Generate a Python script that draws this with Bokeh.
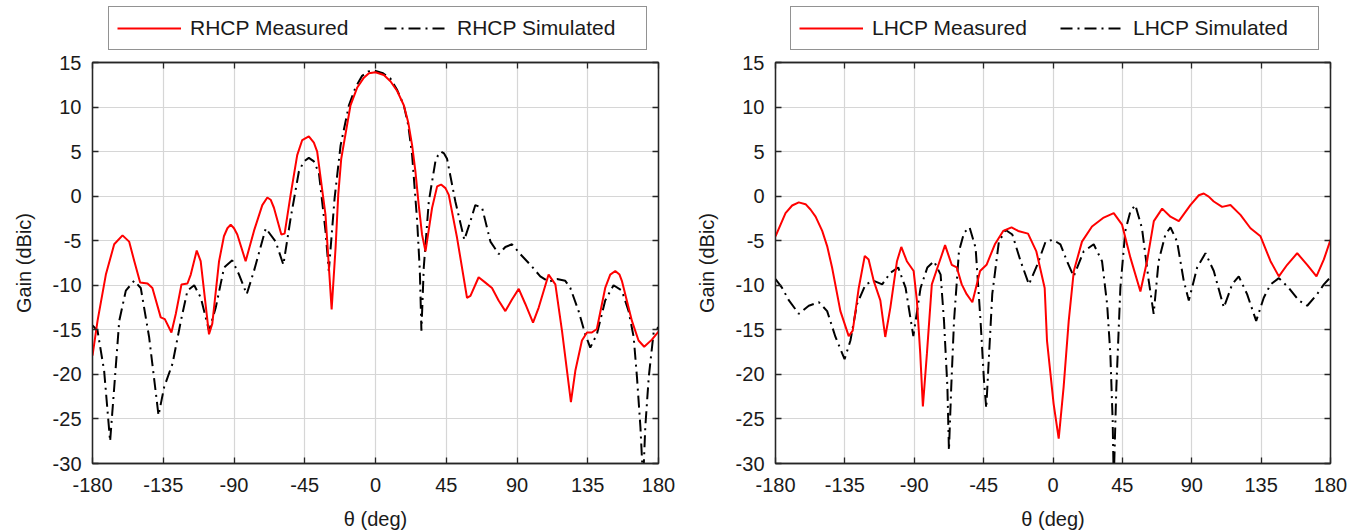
from bokeh.plotting import figure
from bokeh.models import (Range1d, Legend, LegendItem, LinearAxis, FixedTicker,
                          CustomJSTickFormatter)
from bokeh.layouts import row, column
from bokeh.embed import file_html
from bokeh.resources import INLINE

# ---------------- data ----------------
x_ticks = [-180, -135, -90, -45, 0, 45, 90, 135, 180]
y_ticks = [-30, -25, -20, -15, -10, -5, 0, 5, 10, 15]

rhcp_meas_theta = [-180, -176.8, -171.5, -166.2, -160.9, -156.7, -153.4, -149.7, -145, -141.9,
                   -136.6, -134, -129.8, -127, -123.4, -119.6, -117.5, -113.7, -111.2, -105.9,
                   -103.8, -99.5, -96.4, -94.2, -92.1, -90, -87.9, -82.6, -77.3, -72, -68.8,
                   -66.7, -64.6, -59.9, -57.8, -54, -49.8, -46.6, -42.4, -39.2, -37.1, -31.8,
                   -27.9, -25.4, -23.7, -21.8, -15.9, -11.6, -7.4, -4.2, 0, 5.3, 9.5, 13.8,
                   18, 20.8, 23.3, 25.4, 27.5, 29.6, 31.8, 36, 39.2, 41.7, 44.5, 46.6, 51.9,
                   58.2, 60.4, 65.6, 69.9, 74.1, 78.3, 82.6, 86.8, 91.1, 95.3, 100.2, 103.8,
                   110.1, 114.4, 118.6, 124.3, 127.1, 131.3, 134.5, 137.6, 140.8, 146.1,
                   149.3, 152.5, 155.2, 156.7, 163.1, 167.3, 170.9, 175.8, 180]
rhcp_meas_gain = [-17.9, -14.0, -8.8, -5.4, -4.4, -5.1, -7.3, -9.7, -9.8, -10.3,
                  -13.6, -13.8, -15.3, -13.2, -9.9, -9.8, -8.8, -6.1, -7.3, -15.5,
                  -14.3, -7.3, -4.5, -3.6, -3.2, -3.6, -4.3, -7.3, -3.9, -1.0, -0.15,
                  -0.4, -1.3, -4.3, -4.2, 0.15, 4.6, 6.3, 6.7, 6.0, 5.0, -2.1,
                  -12.7, -5.8, 0.15, 4.2, 10.2, 12.2, 13.3, 13.8, 13.9, 13.6, 12.9, 11.8,
                  10.2, 8.3, 5.7, 2.75, -1.0, -4.3, -6.2, -1.3, 1.1, 1.3, 0.9, 0.15, -4.7,
                  -11.4, -11.2, -9.1, -9.7, -10.3, -11.7, -12.9, -11.6, -10.4, -12.1, -14.2, -12.5,
                  -8.8, -9.9, -15.1, -23.1, -19.6, -16.2, -15.3, -15.3, -14.9, -10.3,
                  -8.8, -8.4, -8.8, -9.5, -14.0, -16.2, -16.9, -16.1, -15.2]

rhcp_sim_theta = [-180, -176.8, -172.6, -168.8, -166.2, -163, -158.8, -153.5, -149.3, -144, -138,
                  -134.4, -129.1, -123.8, -119.6, -115.3, -111.1, -105.9, -101.6, -96.3, -91.1,
                  -86.8, -81.9, -77.3, -69.8, -63.5, -58.6, -54, -48.7, -45.5, -42.4, -39.2,
                  -36, -31.8, -29.7, -26, -22.2, -16.9, -12.7, -8.5, -4.5, -1, 4.8, 9.5, 13.8,
                  18, 20.8, 23.3, 26.5, 28.2, 29.2, 30.7, 33.9, 38.1, 39.8, 41.7, 43.6, 45.5,
                  50.8, 56.5, 60.4, 63.5, 67.8, 73.1, 78.4, 82.6, 86.8, 92.1, 98.5, 104.8,
                  110.1, 115.4, 120.7, 123.9, 129.2, 133.4, 136.6, 140.8, 146.1, 151.4,
                  156.7, 161, 164.2, 166.3, 168.5, 170.2, 171.6, 173.8, 176.9, 180]
rhcp_sim_gain = [-14.5, -15.1, -19.6, -27.5, -21.5, -14.0, -10.6, -9.5, -10.3, -15.8, -24.6,
                 -21.4, -18.8, -14.0, -10.6, -10.0, -11.4, -15.1, -12.5, -8.0, -7.2,
                 -8.8, -11.0, -8.4, -3.6, -5.1, -7.7, -2.5, 2.8, 3.9, 4.3, 3.9,
                 2.6, -3.9, -8.4, -0.2, 5.7, 10.2, 12.2, 13.5, 14.0, 14.1, 13.8, 13.2, 11.9,
                 10.2, 8.0, 4.6, -2.8, -8.4, -15.1, -8.0, -0.6, 3.9, 4.6, 5.0, 4.8, 4.2,
                 -0.6, -4.9, -2.8, -1.0, -1.3, -5.1, -6.5, -5.7, -5.4, -6.5, -7.7, -9.0,
                 -9.6, -9.3, -9.5, -10.3, -12.9, -15.5, -17.0, -15.5, -11.7, -10.0,
                 -10.6, -12.9, -15.8, -20.3, -25.9, -32.0, -25.9, -20.3, -15.3, -14.7]

lhcp_meas_theta = [-180, -173.5, -169.2, -164.9, -160.5, -157.3, -154, -149.7, -146.5, -143.3,
                   -137.9, -132.5, -129.9, -126, -122.1, -119.6, -116.3, -112, -108.8, -105.5,
                   -101.2, -98.4, -94.8, -90.4, -88.3, -86.1, -84.4, -81.8, -78.6, -74.3, -70,
                   -65.7, -62.4, -59.2, -56, -52.3, -47.3, -43.1, -37.7, -32.3, -26.9, -22.6,
                   -16.2, -10.8, -5.4, -3.9, 0.4, 3.7, 6.9, 10.2, 13.5, 18.8, 25.3, 32.9, 39.4,
                   44.8, 50.2, 56.7, 61, 65.4, 70.8, 76.2, 81.6, 89.1, 94.6, 97.8, 101, 104.3,
                   109.7, 115.1, 121.6, 128.1, 134.6, 141.1, 146.5, 151.9, 158.4, 164.9, 170.9,
                   175.7, 180]
lhcp_meas_gain = [-4.5, -1.9, -1.05, -0.7, -0.9, -1.5, -2.3, -3.9, -5.6, -8.0,
                  -12.9, -15.7, -15.1, -10.3, -6.7, -7.1, -9.5, -11.7, -15.8, -12.5,
                  -7.3, -5.7, -7.3, -8.4, -11.7, -17.7, -23.6, -17.7, -9.9, -7.7, -5.5,
                  -7.7, -8.0, -9.9, -11.0, -11.9, -8.4, -7.7, -5.4, -3.9, -3.5, -3.9,
                  -4.2, -6.2, -10.3, -16.2, -23.3, -27.2, -21.4, -14.0, -8.4, -5.1, -3.4, -2.4, -1.9,
                  -3.2, -6.9, -10.7, -7.3, -2.8, -1.4, -2.3, -2.8, -1.0, 0.1, 0.3, -0.05, -0.6,
                  -1.2, -1.0, -2.1, -3.6, -4.5, -7.3, -9.0, -7.7, -6.4, -7.7, -9.0,
                  -7.1, -4.9]

lhcp_sim_theta = [-180, -175.7, -171.3, -164.9, -158.4, -151.9, -146.5, -141.1, -135.2, -131.4,
                  -127.1, -121.6, -116.3, -110.8, -105.5, -100.4, -95.6, -90.6, -85.9, -81.5,
                  -77.2, -72.9, -70.7, -68.5, -67.5, -66, -64.2, -61, -57.7, -54.1, -50.2,
                  -47, -44.8, -43.3, -42, -39.4, -35.1, -30.7, -26.4, -21, -15.6, -10.2, -4.8,
                  0, 4.8, 9.1, 13.4, 19.9, 26.4, 31.8, 35.1, 37.2, 38.7, 39.4, 41.1, 43.7,
                  46.9, 50.2, 53.4, 57.7, 62.1, 65.3, 68.5, 72.9, 76.2, 80.5, 84.8, 88.1,
                  93.5, 98.9, 104.3, 110.8, 116.2, 120.5, 125.9, 131.8, 136.7, 141.1, 146.5,
                  153, 159.4, 164.9, 171.3, 175.7, 180]
lhcp_sim_gain = [-9.3, -10.3, -11.7, -13.2, -12.3, -11.9, -12.9, -15.8, -18.3, -16.2,
                 -12.1, -9.9, -9.5, -9.9, -8.6, -8.0, -10.3, -15.7, -10.3, -8.0,
                 -7.3, -8.8, -14.0, -21.4, -28.5, -21.4, -14.0, -6.2, -4.1, -3.5, -5.8,
                 -14.0, -20.6, -23.8, -19.5, -11.0, -5.1, -3.8, -4.3, -7.3, -9.9, -7.7, -5.1,
                 -4.9, -5.4, -7.3, -9.0, -6.2, -5.4, -7.3, -12.1, -17.7, -25.2, -32.0, -21.4, -10.3,
                 -3.9, -1.7, -1.0, -3.6, -9.5, -13.2, -7.3, -4.3, -3.5, -5.1, -9.5, -11.7,
                 -8.0, -6.4, -8.4, -12.5, -9.9, -9.0, -11.0, -14.0, -11.4, -9.9, -9.2,
                 -10.3, -11.7, -12.3, -11.0, -9.9, -9.1]

FONT = "Liberation Sans"
AX = "#262626"
GRID = "#d6d6d6"
TXT = "#1a1a1a"
RED = "#ff0000"
DASH = "12 5 2 5"
LEG_H = 51


def make_legend_fig(width, bl, br, meas_x, meas_y, sim_x, sim_y, lab_meas, lab_sim,
                    lx, ly, label_w, spacing):
    # strip above each panel that only carries the legend; the series are drawn here
    # too, but the ranges keep them out of view
    f = figure(width=width, height=LEG_H, output_backend="svg", toolbar_location=None,
               x_range=Range1d(1000, 1001), y_range=Range1d(1000, 1001),
               min_border_left=bl, min_border_right=br,
               min_border_top=0, min_border_bottom=0,
               x_axis_type=None, y_axis_type=None)
    f.outline_line_color = None
    f.grid.visible = False
    r1 = f.line(meas_x, meas_y, line_color=RED, line_width=2)
    r2 = f.line(sim_x, sim_y, line_color="black", line_width=2, line_dash=DASH)
    leg = Legend(items=[LegendItem(label=lab_meas, renderers=[r1]),
                        LegendItem(label=lab_sim, renderers=[r2])],
                 location=(lx, ly), orientation="horizontal",
                 padding=8, margin=0, spacing=spacing, label_standoff=9,
                 glyph_width=64, glyph_height=26, label_height=26,
                 label_width=label_w,
                 label_text_font=FONT, label_text_font_size="21px",
                 label_text_color=TXT,
                 border_line_color=AX, border_line_width=1.3,
                 background_fill_color="white", background_fill_alpha=1.0)
    f.add_layout(leg)
    return f


def make_panel(width, bl, br, meas_x, meas_y, sim_x, sim_y):
    p = figure(width=width, height=532 - LEG_H, output_backend="svg", toolbar_location=None,
               x_range=Range1d(-180, 180), y_range=Range1d(-30, 15),
               min_border_left=bl, min_border_right=br, min_border_top=62 - LEG_H,
               min_border_bottom=67, background_fill_color="white",
               border_fill_color="white")
    p.outline_line_color = AX
    p.outline_line_width = 1.3

    plain = CustomJSTickFormatter(code="return String(tick);")
    for ax in (p.xaxis[0], p.yaxis[0]):
        ax.formatter = plain
        ax.major_tick_in = 6
        ax.major_tick_out = 0
        ax.minor_tick_in = 0
        ax.minor_tick_out = 0
        ax.axis_line_color = AX
        ax.axis_line_width = 1.3
        ax.major_tick_line_color = AX
        ax.major_tick_line_width = 1.3
        ax.major_label_text_font = FONT
        ax.major_label_text_font_size = "20px"
        ax.major_label_text_color = TXT
        ax.axis_label_text_font = FONT
        ax.axis_label_text_font_size = "20px"
        ax.axis_label_text_font_style = "normal"
        ax.axis_label_text_color = TXT
    p.xaxis[0].ticker = FixedTicker(ticks=x_ticks)
    p.yaxis[0].ticker = FixedTicker(ticks=y_ticks)
    p.xaxis[0].major_label_standoff = 14
    p.yaxis[0].major_label_standoff = 11
    p.yaxis[0].axis_label = "Gain (dBic)"
    p.yaxis[0].axis_label_standoff = 15
    p.xaxis[0].axis_label = "\u03b8 (deg)"
    p.xaxis[0].axis_label_standoff = 13

    # ticks on the right and top (box style), no labels
    empty = CustomJSTickFormatter(code="return '';")
    for side, tk in (("right", y_ticks), ("above", x_ticks)):
        a = LinearAxis(ticker=FixedTicker(ticks=tk), formatter=empty,
                       major_tick_in=6, major_tick_out=0, minor_tick_in=0, minor_tick_out=0,
                       axis_line_color=AX, axis_line_width=1.3, major_tick_line_color=AX,
                       major_tick_line_width=1.3, major_label_standoff=0)
        p.add_layout(a, side)

    p.xgrid.grid_line_color = GRID
    p.ygrid.grid_line_color = GRID
    p.xgrid.grid_line_width = 1.2
    p.ygrid.grid_line_width = 1.2
    p.xgrid.ticker = FixedTicker(ticks=x_ticks)
    p.ygrid.ticker = FixedTicker(ticks=y_ticks)

    p.line(sim_x, sim_y, line_color="black", line_width=2, line_dash=DASH)
    p.line(meas_x, meas_y, line_color=RED, line_width=2)
    return p


l1 = make_legend_fig(680, 92, 22, rhcp_meas_theta, rhcp_meas_gain, rhcp_sim_theta, rhcp_sim_gain,
                     "RHCP Measured", "RHCP Simulated", 16, 0.7, 181, 13)
p1 = make_panel(680, 92, 22, rhcp_meas_theta, rhcp_meas_gain, rhcp_sim_theta, rhcp_sim_gain)
l2 = make_legend_fig(679, 95, 29, lhcp_meas_theta, lhcp_meas_gain, lhcp_sim_theta, lhcp_sim_gain,
                     "LHCP Measured", "LHCP Simulated", 15, 0.7, 177, 11)
p2 = make_panel(679, 95, 29, lhcp_meas_theta, lhcp_meas_gain, lhcp_sim_theta, lhcp_sim_gain)

layout = row(column(l1, p1), column(l2, p2))
open("out.html", "w").write(file_html(layout, INLINE))
